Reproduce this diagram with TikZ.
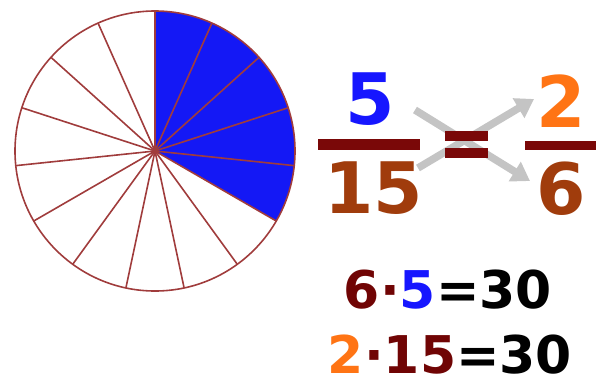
\documentclass[tikz,border=0pt]{standalone}
\usepackage{fontspec}
\setmainfont{DejaVu Sans}
\usetikzlibrary{arrows.meta}
\definecolor{pieblue}{RGB}{20,24,245}
\definecolor{pieline}{RGB}{160,60,60}
\definecolor{numblue}{RGB}{22,22,255}
\definecolor{numbrown}{RGB}{160,60,12}
\definecolor{numorange}{RGB}{255,116,20}
\definecolor{bardark}{RGB}{122,8,8}
\definecolor{prodred}{RGB}{112,4,4}
\definecolor{arrgray}{RGB}{196,196,196}
\tikzset{
  bignum/.style={inner sep=0pt, font=\fontsize{71}{71}\selectfont\bfseries},
  prodnum/.style={inner sep=0pt, font=\fontsize{52}{52}\selectfont\bfseries},
  fracbar/.style={fill=bardark, draw=none},
  grayarrow/.style={draw=arrgray, line width=7.5pt, -{Triangle[width=22pt,length=18pt]}},
  spoke/.style={draw=pieline, line width=1.6pt},
}
\begin{document}
\begin{tikzpicture}[x=1pt,y=-1pt]
\useasboundingbox (0,0) rectangle (596,381);
% pie (y axis points down, so angles run clockwise on the page)
\coordinate (c) at (155,151);
\fill[pieblue] (c) -- ++(-90:140) arc[start angle=-90, end angle=30, radius=140] -- cycle;
\foreach \i in {0,...,14} {
  \draw[spoke] (c) -- ++({-90+24*\i}:140);
}
\draw[spoke] (c) circle[radius=140];
% arrows
\coordinate (a1s) at (415,110);
\coordinate (a1e) at (530,181);
\coordinate (a2s) at (418,168);
\coordinate (a2e) at (534,99);
\draw[grayarrow] (a1s) -- (a1e);
\draw[grayarrow] (a2s) -- (a2e);
% fractions
\node[bignum, text=numblue] (n5) at (370,99) {5};
\fill[fracbar] (318,138.5) rectangle (420,149.5);
\node[bignum, text=numbrown] (n15) at (373.5,188.5) {15};
\fill[fracbar] (445,131) rectangle (488,140.5);
\fill[fracbar] (445,148) rectangle (488,158);
\node[bignum, text=numorange] (n2) at (561,101.5) {2};
\fill[fracbar] (525,141) rectangle (596,150);
\node[bignum, text=numbrown] (n6) at (561,189) {6};
% products
\node[prodnum] (p1) at (448,290) {\textcolor{prodred}{6·}\textcolor{numblue}{5}\textcolor{black}{=30}};
\node[prodnum] (p2) at (450,354.5) {\textcolor{numorange}{2}\textcolor{prodred}{·15}\textcolor{black}{=30}};
\end{tikzpicture}
\end{document}
